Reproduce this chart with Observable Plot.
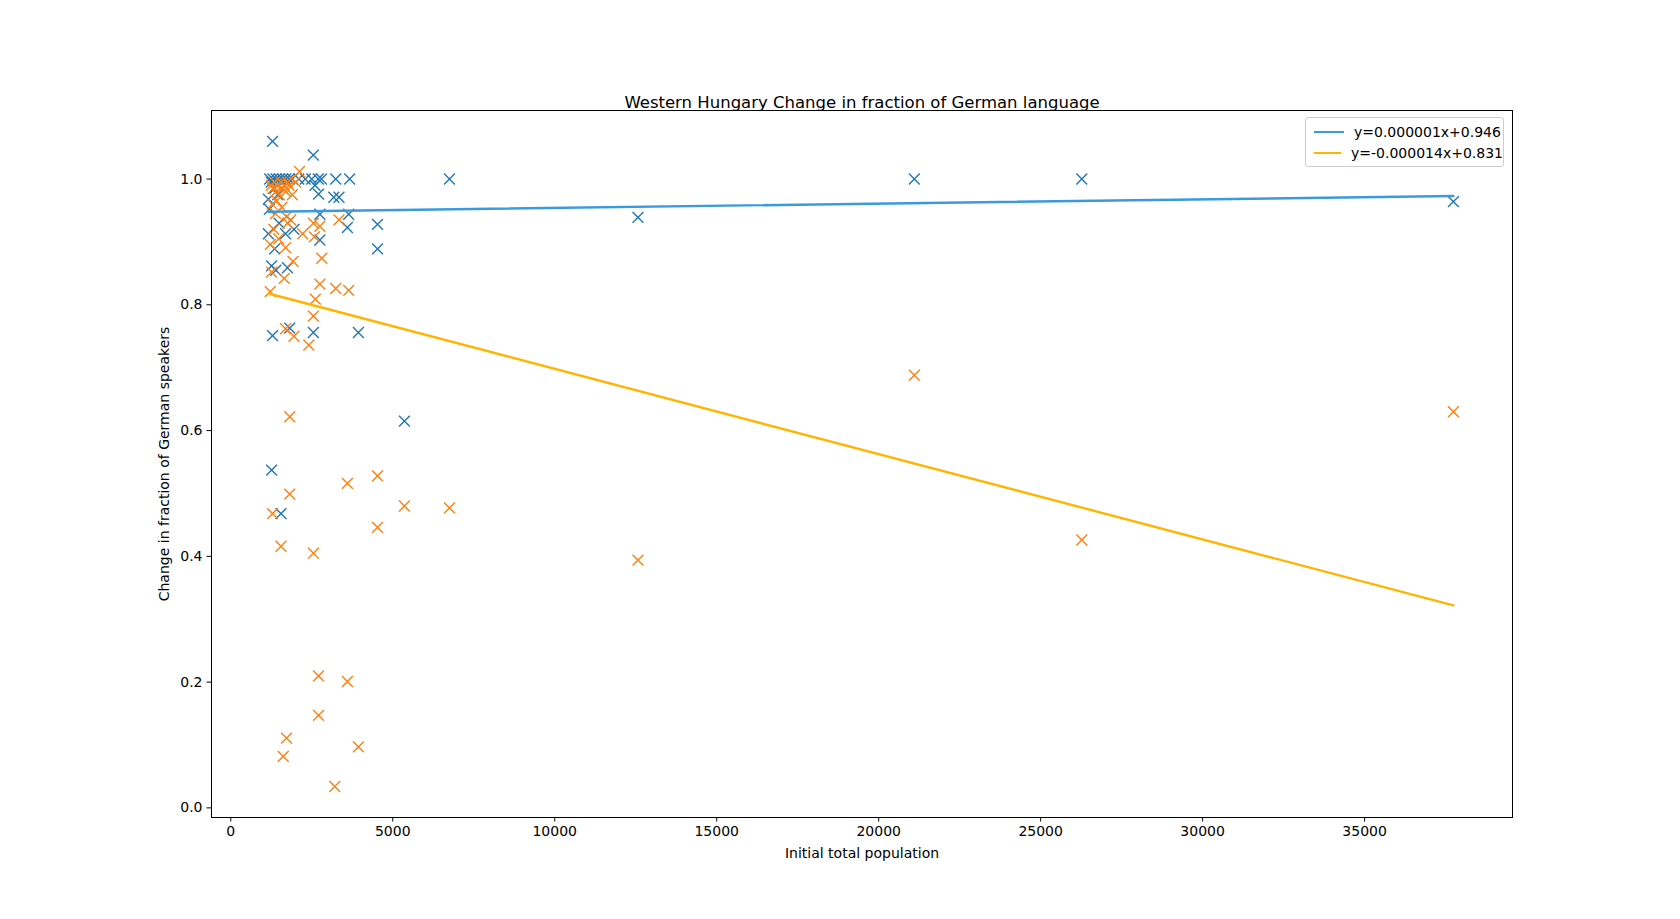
<!DOCTYPE html>
<html>
<head>
<meta charset="utf-8">
<script src="https://cdn.jsdelivr.net/npm/d3@7"></script>
<script src="https://cdn.jsdelivr.net/npm/@observablehq/plot@0.6"></script>
<style>
  body { margin: 0; background: #fff; font-family: "DejaVu Sans", sans-serif; }
  #wrap { position: relative; width: 1680px; height: 919px; }
  #legend {
    position: absolute; left: 1305px; top: 117px; width: 197px;
    border: 1px solid #ccc; border-radius: 3px; background: #fff;
    font-size: 14px; padding: 3px 0 3px 0;
  }
  .row { display: flex; align-items: center; height: 21px; }
  .sw { width: 30px; height: 2px; margin: 0 10px 0 8px; }
</style>
</head>
<body>
<div id="wrap">
  <div id="graph"></div>
  <div id="legend">
    <div class="row"><span class="sw" style="background:#3a9ae0"></span>y=0.000001x+0.946</div>
    <div class="row"><span class="sw" style="background:#ffb400"></span>y=-0.000014x+0.831</div>
  </div>
</div>
<script>
// blue series: population, fraction
const blueX = [1290, 2547, 1200, 1300, 1400, 1500, 1600, 1700, 1800, 1900, 2100, 2300, 2500, 2700, 2800,
  3240, 3670, 6750, 21100, 26270, 37740, 12570, 2710, 3180, 3340, 2750, 3640, 4530, 3600, 2750, 4530,
  1260, 1390, 1750, 1356, 3940, 2550, 1290, 1820, 5360, 1260, 1550, 1160, 1190, 1490, 1690, 1160, 1950,
  1350, 1450, 2600, 1250];
const blueY = [1.060, 1.038, 1.0, 1.0, 1.0, 1.0, 1.0, 1.0, 1.0, 1.0, 1.0, 1.0, 1.0, 1.0, 1.0,
  1.0, 1.0, 1.0, 1.0, 1.0, 0.964, 0.939, 0.976, 0.971, 0.971, 0.944, 0.944, 0.928, 0.923, 0.903, 0.889,
  0.862, 0.855, 0.859, 0.889, 0.756, 0.756, 0.751, 0.763, 0.615, 0.537, 0.468, 0.968, 0.952, 0.930, 0.913, 0.913, 0.920,
  0.985, 0.975, 0.990, 0.995];
// orange series
const orangeX = [2120, 1250, 1300, 1350, 1400, 1450, 1500, 1550, 1600, 1650, 1700, 1750, 1800, 1900, 2000,
  1280, 1420, 1580, 1720, 1850, 3340, 2550, 2750, 2580, 2220, 1690, 1220, 2810, 1920, 1260, 1650,
  2750, 3240, 3640, 1220, 2610, 2550, 1690, 1950, 2410, 1820, 21100, 37740, 4530, 3600, 5360, 6750,
  1820, 1290, 4530, 1550, 2550, 12570, 26270, 2710, 3600, 2710, 1720, 1620, 3940, 3210,
  1330, 1480, 1380, 1760];
const orangeY = [1.012, 0.99, 0.985, 0.995, 0.98, 0.99, 0.975, 0.995, 0.985, 0.99, 0.98, 0.995, 0.99, 0.975, 0.995,
  0.96, 0.965, 0.955, 0.94, 0.935, 0.935, 0.930, 0.925, 0.908, 0.913, 0.891, 0.896, 0.874, 0.869, 0.852, 0.842,
  0.833, 0.826, 0.823, 0.821, 0.809, 0.782, 0.762, 0.750, 0.736, 0.622, 0.688, 0.630, 0.528, 0.516, 0.480, 0.477,
  0.499, 0.468, 0.446, 0.416, 0.405, 0.394, 0.426, 0.210, 0.201, 0.147, 0.111, 0.082, 0.097, 0.034,
  0.92, 0.905, 0.945, 0.93];
// fitted lines (endpoints)
const fitX = [1160, 37740];
const blueFit = [0.948, 0.973];
const orangeFit = [0.818, 0.322];

const blue = blueX.map((x, i) => ({x, y: blueY[i]}));
const orange = orangeX.map((x, i) => ({x, y: orangeY[i]}));
const bLine = fitX.map((x, i) => ({x, y: blueFit[i]}));
const oLine = fitX.map((x, i) => ({x, y: orangeFit[i]}));

const chart = Plot.plot({
  width: 1680,
  height: 919,
  marginLeft: 211,
  marginRight: 168,
  marginTop: 110,
  marginBottom: 102,
  style: {fontFamily: "DejaVu Sans, sans-serif", fontSize: "14px", color: "#000", background: "#fff"},
  x: {
    domain: [-595, 39565],
    ticks: [0, 5000, 10000, 15000, 20000, 25000, 30000, 35000],
    tickFormat: (d) => String(d),
    tickSize: 4.5,
    label: "Initial total population",
    labelAnchor: "center",
    labelArrow: "none",
    labelOffset: 40
  },
  y: {
    domain: [-0.0153, 1.109],
    ticks: [0, 0.2, 0.4, 0.6, 0.8, 1.0],
    tickFormat: d3.format(".1f"),
    tickSize: 4.5,
    label: "Change in fraction of German speakers",
    labelAnchor: "center",
    labelArrow: "none",
    labelOffset: 52
  },
  marks: [
    Plot.frame({stroke: "#000"}),
    Plot.dot(blue, {x: "x", y: "y", symbol: "times", r: 5, stroke: "#1f77b4", strokeWidth: 1.4}),
    Plot.dot(orange, {x: "x", y: "y", symbol: "times", r: 5, stroke: "#ff7f0e", strokeWidth: 1.4}),
    Plot.line(bLine, {x: "x", y: "y", stroke: "#3a9ae0", strokeWidth: 2.4}),
    Plot.line(oLine, {x: "x", y: "y", stroke: "#ffb400", strokeWidth: 2.4}),
    Plot.text(["Western Hungary Change in fraction of German language"], {
      frameAnchor: "top", dy: -14, fontSize: 16.5, fill: "#000"
    })
  ]
});
document.getElementById("graph").appendChild(chart);
</script>
</body>
</html>
